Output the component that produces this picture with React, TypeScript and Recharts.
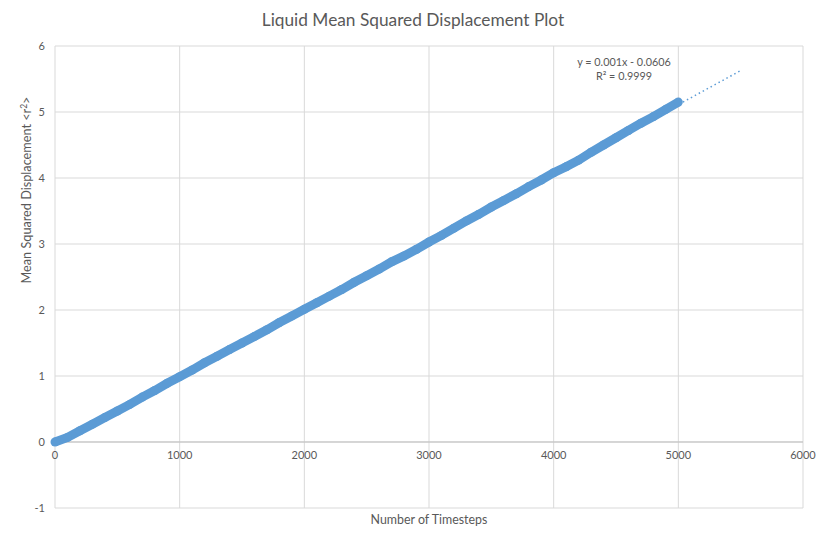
import {
  ScatterChart,
  Scatter,
  XAxis,
  YAxis,
  CartesianGrid,
  ReferenceLine,
} from "recharts";

const timesteps = [
  0, 100, 200, 300, 400, 500, 600, 700, 800, 900, 1000, 1100, 1200, 1300, 1400,
  1500, 1600, 1700, 1800, 1900, 2000, 2100, 2200, 2300, 2400, 2500, 2600, 2700,
  2800, 2900, 3000, 3100, 3200, 3300, 3400, 3500, 3600, 3700, 3800, 3900, 4000,
  4100, 4200, 4300, 4400, 4500, 4600, 4700, 4800, 4900, 5000,
];

const msd = [
  0.0, 0.07, 0.17, 0.27, 0.37, 0.47, 0.57, 0.68, 0.78, 0.89, 0.99, 1.09, 1.2,
  1.3, 1.4, 1.5, 1.6, 1.7, 1.81, 1.91, 2.01, 2.11, 2.21, 2.31, 2.42, 2.52, 2.62,
  2.73, 2.82, 2.92, 3.03, 3.13, 3.24, 3.35, 3.45, 3.56, 3.66, 3.76, 3.87, 3.97,
  4.08, 4.17, 4.27, 4.39, 4.5, 4.61, 4.72, 4.83, 4.93, 5.04, 5.15,
];

const xTicks = [0, 1000, 2000, 3000, 4000, 5000, 6000];
const yTicks = [-1, 0, 1, 2, 3, 4, 5, 6];
const trendEnd = 5500;

const points = timesteps.map((t, i) => ({ t, r2: msd[i] }));

// least squares fit, like the excel trendline
const n = points.length;
const mx = timesteps.reduce((a, b) => a + b, 0) / n;
const my = msd.reduce((a, b) => a + b, 0) / n;
let sxy = 0;
let sxx = 0;
points.forEach((p) => {
  sxy += (p.t - mx) * (p.r2 - my);
  sxx += (p.t - mx) * (p.t - mx);
});
const slope = sxy / sxx;
const intercept = my - slope * mx;

const W = 816;
const H = 534;
const TOP = 46;
const BOTTOM = 26;
const LEFT = 55;
const RIGHT = 13;
const plotH = H - TOP - BOTTOM;
const zeroY = TOP + (6 / 7) * plotH;

const grey = "#595959";
const font = "Lato, 'Open Sans', sans-serif";

export default function App() {
  return (
    <div
      style={{
        position: "fixed",
        left: 0,
        top: 0,
        width: W,
        height: H,
        background: "#fff",
      }}
    >
      <ScatterChart
        width={W}
        height={H}
        margin={{ top: TOP, right: RIGHT, left: 0, bottom: 0 }}
        style={{ fontFamily: font, overflow: "visible" }}
      >
        <CartesianGrid stroke="#d9d9d9" />
        <XAxis
          type="number"
          dataKey="t"
          domain={[0, 6000]}
          ticks={xTicks}
          height={BOTTOM}
          axisLine={false}
          tickLine={false}
          interval={0}
          tick={(props: any) => (
            <text
              x={props.x}
              y={zeroY + 17}
              textAnchor="middle"
              fontSize={11}
              fill={grey}
              fontFamily={font}
            >
              {props.payload.value}
            </text>
          )}
        />
        <YAxis
          type="number"
          dataKey="r2"
          domain={[-1, 6]}
          ticks={yTicks}
          width={LEFT}
          axisLine={false}
          tickLine={false}
          tickMargin={4}
          interval={0}
          tick={{ fontSize: 11, fill: grey }}
        />
        <ReferenceLine y={0} stroke="#bfbfbf" strokeWidth={1} />
        <ReferenceLine
          segment={[
            { x: 0, y: intercept },
            { x: trendEnd, y: intercept + slope * trendEnd },
          ]}
          stroke="#5b9bd5"
          strokeWidth={1.5}
          strokeDasharray="1.5 3"
        />
        <Scatter
          data={points}
          fill="#5b9bd5"
          line={{ stroke: "#5b9bd5", strokeWidth: 9 }}
          shape={(p: any) => (
            <circle cx={p.cx} cy={p.cy} r={4.5} fill="#5b9bd5" />
          )}
          isAnimationActive={false}
        />
        <text
          x={413}
          y={26}
          textAnchor="middle"
          fontSize={17.3}
          fill={grey}
          fontFamily={font}
        >
          Liquid Mean Squared Displacement Plot
        </text>
        <text
          x={429}
          y={524}
          textAnchor="middle"
          fontSize={12.4}
          fill={grey}
          fontFamily={font}
        >
          Number of Timesteps
        </text>
        <text
          x={31}
          y={190}
          textAnchor="middle"
          fontSize={12.7}
          fill={grey}
          fontFamily={font}
          transform="rotate(-90 31 190)"
        >
          Mean Squared Displacement &lt;r<tspan dy={-4} fontSize={8.5}>2</tspan>
          <tspan dy={4}>&gt;</tspan>
        </text>
        <text
          x={624}
          y={66}
          textAnchor="middle"
          fontSize={10.8}
          fill={grey}
          fontFamily={font}
        >
          y = 0.001x - 0.0606
        </text>
        <text
          x={624}
          y={80}
          textAnchor="middle"
          fontSize={10.8}
          fill={grey}
          fontFamily={font}
        >
          R² = 0.9999
        </text>
      </ScatterChart>
    </div>
  );
}
